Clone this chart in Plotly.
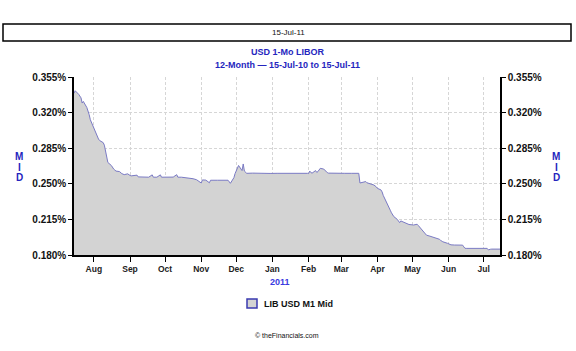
import plotly.graph_objects as go

# ---- data ----
dates = [
    "2010-07-15", "2010-07-16", "2010-07-19", "2010-07-20", "2010-07-21", "2010-07-22", "2010-07-23",
    "2010-07-26", "2010-07-27", "2010-07-28", "2010-07-29", "2010-07-30",
    "2010-08-02", "2010-08-03", "2010-08-04", "2010-08-05", "2010-08-06", "2010-08-09", "2010-08-10",
    "2010-08-11", "2010-08-12", "2010-08-13", "2010-08-16", "2010-08-17", "2010-08-18", "2010-08-19",
    "2010-08-20", "2010-08-23", "2010-08-24", "2010-08-25", "2010-08-26", "2010-08-27", "2010-08-30",
    "2010-08-31", "2010-09-01", "2010-09-02", "2010-09-03", "2010-09-07", "2010-09-08", "2010-09-13",
    "2010-09-17", "2010-09-20", "2010-09-21", "2010-09-24", "2010-09-27", "2010-09-28", "2010-10-01",
    "2010-10-05", "2010-10-08", "2010-10-11", "2010-10-12", "2010-10-15", "2010-10-20", "2010-10-25",
    "2010-10-28", "2010-11-01", "2010-11-02", "2010-11-05", "2010-11-08", "2010-11-09", "2010-11-15",
    "2010-11-22", "2010-11-24", "2010-11-26", "2010-11-29", "2010-11-30", "2010-12-01", "2010-12-02",
    "2010-12-03", "2010-12-06", "2010-12-07", "2010-12-08", "2010-12-09", "2010-12-10", "2010-12-15",
    "2010-12-20", "2010-12-24", "2010-12-30", "2011-01-05", "2011-01-10", "2011-01-14", "2011-01-20",
    "2011-01-25", "2011-01-31", "2011-02-01", "2011-02-02", "2011-02-03", "2011-02-04", "2011-02-07",
    "2011-02-08", "2011-02-09", "2011-02-10", "2011-02-11", "2011-02-14", "2011-02-15", "2011-02-16",
    "2011-02-17", "2011-02-18", "2011-02-22", "2011-02-28", "2011-03-04", "2011-03-10", "2011-03-16",
    "2011-03-17", "2011-03-18", "2011-03-21", "2011-03-22", "2011-03-23", "2011-03-25", "2011-03-28",
    "2011-03-29", "2011-03-31", "2011-04-01", "2011-04-04", "2011-04-05", "2011-04-06", "2011-04-07",
    "2011-04-08", "2011-04-11", "2011-04-12", "2011-04-13", "2011-04-14", "2011-04-15", "2011-04-18",
    "2011-04-19", "2011-04-20", "2011-04-21", "2011-04-25", "2011-04-26", "2011-04-28", "2011-05-02",
    "2011-05-03", "2011-05-04", "2011-05-05", "2011-05-06", "2011-05-09", "2011-05-10", "2011-05-11",
    "2011-05-12", "2011-05-13", "2011-05-16", "2011-05-18", "2011-05-20", "2011-05-23", "2011-05-24",
    "2011-05-25", "2011-05-26", "2011-05-27", "2011-05-31", "2011-06-01", "2011-06-02", "2011-06-03",
    "2011-06-06", "2011-06-08", "2011-06-10", "2011-06-13", "2011-06-14", "2011-06-15", "2011-06-16",
    "2011-06-22", "2011-06-28", "2011-07-01", "2011-07-04", "2011-07-05", "2011-07-06", "2011-07-07",
    "2011-07-08", "2011-07-12", "2011-07-15",
]
mid_values = [
    0.3390, 0.3415, 0.3380, 0.3360, 0.3345, 0.3294, 0.3310,
    0.3250, 0.3220, 0.3180, 0.3130, 0.3100,
    0.3030, 0.3000, 0.2960, 0.2940, 0.2925, 0.2905, 0.2880,
    0.2830, 0.2760, 0.2710, 0.2680, 0.2655, 0.2645, 0.2635,
    0.2625, 0.2620, 0.2605, 0.2600, 0.2595, 0.2590, 0.2598,
    0.2585, 0.2582, 0.2578, 0.2580, 0.2585, 0.2568, 0.2565,
    0.2565, 0.2588, 0.2565, 0.2565, 0.2588, 0.2565, 0.2567,
    0.2569, 0.2566, 0.2590, 0.2565, 0.2565, 0.2560, 0.2550,
    0.2540, 0.2508, 0.2538, 0.2536, 0.2510, 0.2535, 0.2535,
    0.2535, 0.2535, 0.2505, 0.2560, 0.2600, 0.2625, 0.2640,
    0.2680, 0.2630, 0.2695, 0.2625, 0.2610, 0.2603, 0.2605,
    0.2602, 0.2604, 0.2602, 0.2603, 0.2604, 0.2602, 0.2603,
    0.2603, 0.2603, 0.2600, 0.2625, 0.2610, 0.2605, 0.2630,
    0.2612, 0.2620, 0.2640, 0.2652, 0.2645, 0.2630, 0.2620,
    0.2610, 0.2605, 0.2603, 0.2603, 0.2603, 0.2603, 0.2603,
    0.2508, 0.2510, 0.2515, 0.2522, 0.2510, 0.2505, 0.2495,
    0.2488, 0.2470, 0.2455, 0.2440, 0.2420, 0.2385, 0.2358,
    0.2330, 0.2260, 0.2240, 0.2215, 0.2195, 0.2178, 0.2150,
    0.2130, 0.2118, 0.2135, 0.2115, 0.2105, 0.2100, 0.2095,
    0.2095, 0.2100, 0.2102, 0.2090, 0.2050, 0.2029, 0.2015,
    0.2005, 0.1995, 0.1985, 0.1978, 0.1970, 0.1960, 0.1955,
    0.1945, 0.1938, 0.1930, 0.1915, 0.1908, 0.1903, 0.1900,
    0.1898, 0.1898, 0.1898, 0.1897, 0.1880, 0.1866, 0.1865,
    0.1865, 0.1865, 0.1865, 0.1865, 0.1850, 0.1850, 0.1857,
    0.1858, 0.1858, 0.1858,
]
month_ticks = ["2010-08-01", "2010-09-01", "2010-10-01", "2010-11-01", "2010-12-01", "2011-01-01",
               "2011-02-01", "2011-03-01", "2011-04-01", "2011-05-01", "2011-06-01", "2011-07-01"]
month_labels = ["Aug", "Sep", "Oct", "Nov", "Dec", "Jan", "Feb", "Mar", "Apr", "May", "Jun", "Jul"]
y_ticks = [0.180, 0.215, 0.250, 0.285, 0.320, 0.355]
y_labels = ["0.180%", "0.215%", "0.250%", "0.285%", "0.320%", "0.355%"]
series_name = "LIB USD M1 Mid"
title_lines = ["USD 1-Mo LIBOR", "12-Month \u2014 15-Jul-10 to 15-Jul-11"]
date_box_text = "15-Jul-11"
year_label = "2011"
credit_text = "\u00a9 theFinancials.com"

# ---- styling ----
W, H = 576, 351
L, R, T, B = 74, 76, 77, 96
PW, PH = W - L - R, H - T - B
BLUE = "#2525BE"
FONT = "Liberation Sans, Arial, sans-serif"
FILL = "#D3D3D3"
LINE = "#7A7AC4"
GRID = "#D6D6D6"


def px(xp):
    return (xp - L) / PW


def py(yp):
    return (H - B - yp) / PH


fig = go.Figure()
fig.add_trace(go.Scatter(
    x=dates, y=mid_values, mode="lines", fill="tozeroy",
    fillcolor=FILL, line=dict(color=LINE, width=1), name=series_name,
    showlegend=False, hoverinfo="x+y",
))
# same series on the mirrored right axis (invisible) so it renders
fig.add_trace(go.Scatter(
    x=dates, y=mid_values, mode="lines", yaxis="y2",
    line=dict(color="rgba(0,0,0,0)", width=0), showlegend=False, hoverinfo="skip",
))

axis_font = dict(family=FONT, size=10, color="#111111")
fig.update_layout(
    width=W, height=H,
    margin=dict(l=L, r=R, t=T, b=B, pad=0),
    paper_bgcolor="white", plot_bgcolor="white",
    font=dict(family=FONT),
    xaxis=dict(
        range=["2010-07-15", "2011-07-15"],
        tickmode="array", tickvals=month_ticks,
        ticktext=["<b>%s</b>" % m for m in month_labels],
        tickfont=dict(family=FONT, size=8.5, color="#222222"),
        ticks="outside", ticklen=5, tickcolor="black", tickwidth=1,
        showline=True, linecolor="black", linewidth=1.5,
        showgrid=True, gridcolor=GRID, griddash="3px,2px", gridwidth=1,
        zeroline=False, fixedrange=True,
    ),
    yaxis=dict(
        range=[0.180, 0.355],
        tickmode="array", tickvals=y_ticks,
        ticktext=["<b>%s</b>" % t for t in y_labels],
        tickfont=axis_font,
        ticks="outside", ticklen=4, tickcolor="black", tickwidth=1,
        showline=True, linecolor="black", linewidth=1.5,
        showgrid=True, gridcolor=GRID, griddash="3px,2px", gridwidth=1,
        zeroline=False, fixedrange=True,
    ),
    yaxis2=dict(
        range=[0.180, 0.355], overlaying="y", side="right",
        tickmode="array", tickvals=y_ticks,
        ticktext=["<b>%s</b>" % t for t in y_labels],
        tickfont=axis_font,
        ticks="outside", ticklen=4, tickcolor="black", tickwidth=1,
        showline=True, linecolor="black", linewidth=1.5,
        showgrid=False, zeroline=False, fixedrange=True,
    ),
    showlegend=False,
)

shapes = []
annotations = []

# top date box
shapes.append(dict(type="rect", xref="paper", yref="paper",
                   x0=px(3), x1=px(571), y0=py(41), y1=py(24),
                   line=dict(color="black", width=1.5), fillcolor="white", layer="above"))
annotations.append(dict(text=date_box_text, xref="paper", yref="paper", x=px(288), y=py(32.5),
                        showarrow=False, xanchor="center", yanchor="middle",
                        font=dict(family=FONT, size=8, color="#111111")))

# title
annotations.append(dict(text="<b>%s</b>" % title_lines[0], xref="paper", yref="paper",
                        x=px(287), y=py(52), showarrow=False, xanchor="center", yanchor="middle",
                        font=dict(family=FONT, size=9, color=BLUE)))
annotations.append(dict(text="<b>%s</b>" % title_lines[1], xref="paper", yref="paper",
                        x=px(287), y=py(65), showarrow=False, xanchor="center", yanchor="middle",
                        font=dict(family=FONT, size=9, color=BLUE)))

# MID labels (stacked letters) on both sides
for xc in (19, 556):
    for i, ch in enumerate("MID"):
        annotations.append(dict(text="<b>%s</b>" % ch, xref="paper", yref="paper",
                                x=px(xc), y=py(156.5 + i * 10.7), showarrow=False,
                                xanchor="center", yanchor="middle",
                                font=dict(family=FONT, size=10, color=BLUE)))

# year label
annotations.append(dict(text="<b>%s</b>" % year_label, xref="paper", yref="paper",
                        x=px(280), y=py(282), showarrow=False, xanchor="center", yanchor="middle",
                        font=dict(family=FONT, size=9, color="#3A3AE0")))

# legend
shapes.append(dict(type="rect", xref="paper", yref="paper",
                   x0=px(247), x1=px(257), y0=py(308), y1=py(299),
                   line=dict(color="#3A3AB0", width=1.5), fillcolor=FILL))
annotations.append(dict(text="<b>%s</b>" % series_name, xref="paper", yref="paper",
                        x=px(262), y=py(303.5), showarrow=False, xanchor="left", yanchor="middle",
                        font=dict(family=FONT, size=9, color="#111111")))

# credit
annotations.append(dict(text=credit_text, xref="paper", yref="paper",
                        x=px(287), y=py(335), showarrow=False, xanchor="center", yanchor="middle",
                        font=dict(family=FONT, size=7, color="#111111")))

fig.update_layout(shapes=shapes, annotations=annotations)
fig.write_html("out.html")
